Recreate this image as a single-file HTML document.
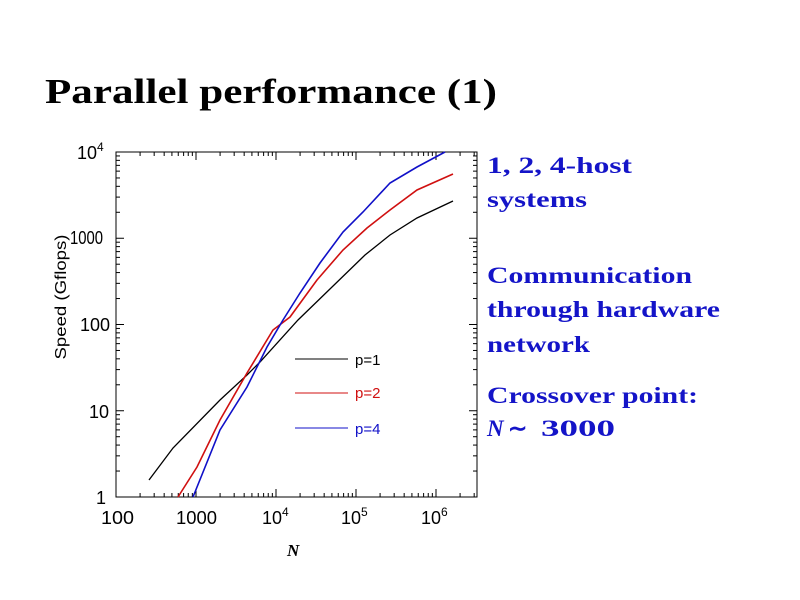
<!DOCTYPE html>
<html><head><meta charset="utf-8"><style>
html,body{margin:0;padding:0;background:#fff;width:800px;height:600px;overflow:hidden}
svg{display:block}
.t{font-family:"Liberation Serif",serif;font-weight:bold;font-size:23px;fill:#1414c8}
.a{font-family:"Liberation Sans",sans-serif;font-size:18px;fill:#000}
</style></head><body>
<svg id="s" width="800" height="600" xmlns="http://www.w3.org/2000/svg">
<text x="45" y="103" font-family="Liberation Serif,serif" font-weight="bold" font-size="35" fill="#000" textLength="452" lengthAdjust="spacingAndGlyphs">Parallel performance (1)</text>
<text class="t" x="487" y="173" textLength="145" lengthAdjust="spacingAndGlyphs">1, 2, 4-host</text>
<text class="t" x="487" y="207" textLength="100" lengthAdjust="spacingAndGlyphs">systems</text>
<text class="t" x="487" y="283" textLength="205" lengthAdjust="spacingAndGlyphs">Communication</text>
<text class="t" x="487" y="317" textLength="233" lengthAdjust="spacingAndGlyphs">through hardware</text>
<text class="t" x="487" y="352" textLength="103" lengthAdjust="spacingAndGlyphs">network</text>
<text class="t" x="487" y="403" textLength="211" lengthAdjust="spacingAndGlyphs">Crossover point:</text>
<text class="t" x="487" y="436" font-style="italic">N</text>
<text class="t" x="508" y="436">∼</text>
<text class="t" x="541" y="436" textLength="74" lengthAdjust="spacingAndGlyphs">3000</text>
<rect x="116" y="152" width="361" height="345" fill="none" stroke="#000" stroke-width="1"/>
<g id="ticks" stroke="#000" stroke-width="1"></g>
<g class="a">
<text x="101" y="524" textLength="33" lengthAdjust="spacingAndGlyphs">100</text>
<text x="176" y="524" textLength="41" lengthAdjust="spacingAndGlyphs">1000</text>
<text x="262" y="524">10<tspan font-size="12" dy="-8">4</tspan></text>
<text x="341" y="524">10<tspan font-size="12" dy="-8">5</tspan></text>
<text x="421" y="524">10<tspan font-size="12" dy="-8">6</tspan></text>
<text x="77" y="159">10<tspan font-size="12" dy="-8">4</tspan></text>
<text x="70" y="244" textLength="33" lengthAdjust="spacingAndGlyphs">1000</text>
<text x="80" y="331">100</text>
<text x="89" y="418">10</text>
<text x="96" y="504">1</text>
<text transform="translate(66,297) rotate(-90)" text-anchor="middle" font-size="16" textLength="125" lengthAdjust="spacingAndGlyphs">Speed  (Gflops)</text>
<text x="287" y="556" font-family="Liberation Serif,serif" font-style="italic" font-weight="bold" font-size="17">N</text>
<text x="355" y="365" font-size="15">p=1</text>
<text x="355" y="398" font-size="15" fill="#d01010">p=2</text>
<text x="355" y="434" font-size="15" fill="#1010c8">p=4</text>
</g>
<line x1="295" y1="359" x2="348" y2="359" stroke="#000"/>
<line x1="295" y1="393" x2="348" y2="393" stroke="#d01010"/>
<line x1="295" y1="428" x2="348" y2="428" stroke="#1010c8"/>
<polyline fill="none" stroke="#000" stroke-width="1.3" points="149,480 173,448 220,400 247,375 260,362 298,320 365,255 390,235 417,218 453,201"/>
<polyline fill="none" stroke="#d01010" stroke-width="1.6" points="178,497 197,467 220,420 247,373 273,330 290,317 317,280 343,250 367,228 390,210 417,190 453,174"/>
<polyline fill="none" stroke="#1010c8" stroke-width="1.6" points="193,497 220,430 247,387 267,347 283,320 300,293 320,263 343,232 363,212 390,183 417,167 445,152"/>
</svg>
<script>
var g=document.getElementById('ticks'),s='';
function L(a,b,c,d){s+='<line x1="'+a+'" y1="'+b+'" x2="'+c+'" y2="'+d+'"/>';}
var x0=116,dx=80,y0=497,dy=86.25;
for(var e=2;e<=6;e++)for(var m=1;m<10;m++){var x=x0+(e-2+Math.log10(m))*dx;if(x>477)break;var l=m==1?8:4;L(x,497,x,497-l);L(x,152,x,152+l);}
for(var e=0;e<=4;e++)for(var m=1;m<10;m++){if(e==4&&m>1)break;var y=y0-(e+Math.log10(m))*dy;var l=m==1?8:4;L(116,y,116+l,y);L(477,y,477-l,y);}
g.innerHTML=s;
</script>
</body></html>
